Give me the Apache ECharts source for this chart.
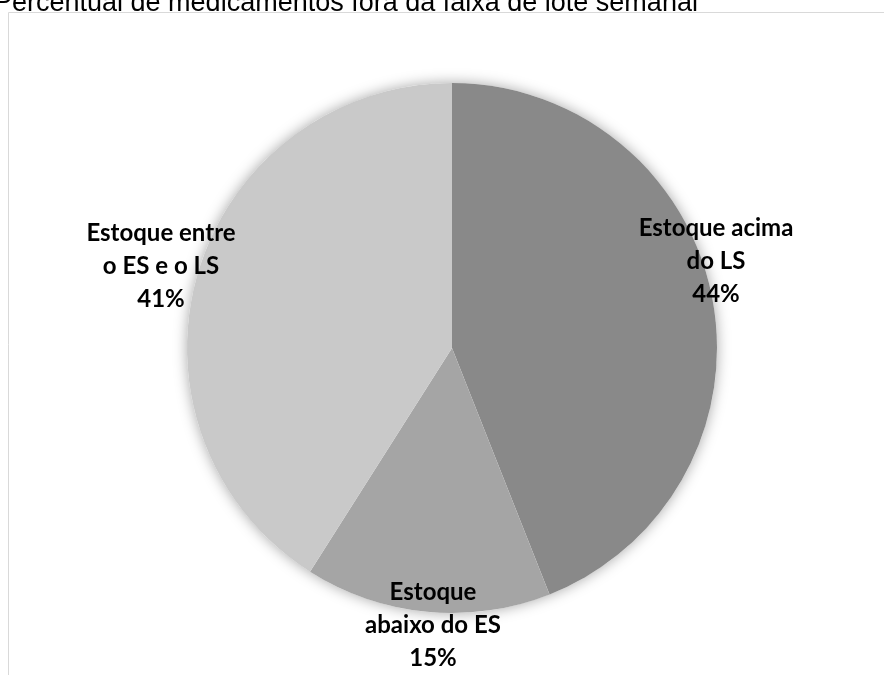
<!DOCTYPE html>
<html><head><meta charset="utf-8">
<script src="https://cdn.jsdelivr.net/npm/echarts@6/dist/echarts.min.js"></script>
<style>html,body{margin:0;padding:0;background:#fff}#c{width:884px;height:675px}</style>
</head><body><div id="c"></div>
<script>
const titleText = 'Percentual de medicamentos fora da faixa de lote semanal';
const categories = ['Estoque acima\ndo LS', 'Estoque\nabaixo do ES', 'Estoque entre\no ES e o LS'];
const values = [44, 15, 41];
const colors = ['#898989', '#a5a5a5', '#c9c9c9'];
const labelAnchors = [[716, 261], [433, 625], [161, 266]];

const chart = echarts.init(document.getElementById('c'), null, {renderer: 'canvas'});
chart.setOption({
  animation: false,
  title: {
    text: titleText, left: -11, top: -15,
    textStyle: {fontFamily: 'Liberation Sans', fontWeight: 'normal', fontSize: 27, color: '#000'}
  },
  graphic: [{
    type: 'rect', z: -10, silent: true,
    shape: {x: 8.5, y: 12.5, width: 900, height: 700},
    style: {fill: 'none', stroke: '#d9d9d9', lineWidth: 1}
  }],
  series: [{
    type: 'pie', silent: true, z: 1,
    center: [452, 348], radius: 265,
    label: {show: false}, labelLine: {show: false},
    itemStyle: {color: '#ffffff', shadowBlur: 14, shadowColor: 'rgba(0,0,0,0.35)', shadowOffsetX: 0, shadowOffsetY: 0},
    data: [{value: 1, name: ''}]
  }, {
    type: 'pie', z: 2,
    center: [452, 348], radius: 265,
    startAngle: 90, clockwise: true,
    data: categories.map((n, i) => ({name: n, value: values[i], itemStyle: {color: colors[i]}})),
    label: {
      show: true, position: 'inside', formatter: '{b}\n{d}%', overflow: 'none',
      fontFamily: 'Lato', fontWeight: 'bold', fontSize: 24, lineHeight: 33,
      color: '#000', align: 'center'
    },
    labelLine: {show: false},
    labelLayout: function (p) {
      const a = labelAnchors[p.dataIndex];
      return {x: a[0], y: a[1], align: 'center', verticalAlign: 'middle'};
    },
    itemStyle: {borderWidth: 0}
  }]
});
</script></body></html>
